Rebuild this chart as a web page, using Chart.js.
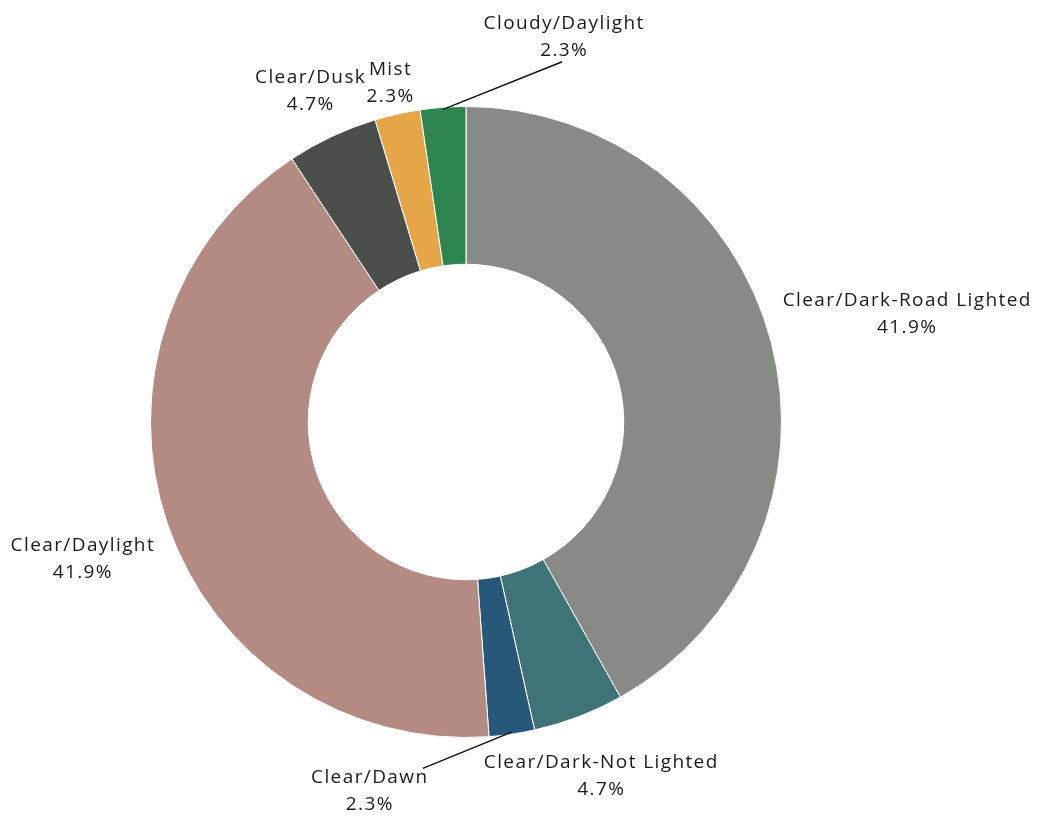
<!DOCTYPE html>
<html>
<head>
<meta charset="utf-8">
<script src="https://cdn.jsdelivr.net/npm/chart.js@4"></script>
<style>
  body { margin: 0; background: #fff; }
  #wrap { width: 1039px; height: 816px; position: relative; }
</style>
</head>
<body>
<div id="wrap"><canvas id="weather"></canvas></div>
<script>
const categories = ['Clear/Dark-Road Lighted', 'Clear/Dark-Not Lighted', 'Clear/Dawn', 'Clear/Daylight', 'Clear/Dusk', 'Mist', 'Cloudy/Daylight']
const counts = [18, 2, 1, 18, 2, 1, 1]
const colours = ['#888a87', '#3e7478', '#27587a', '#b38b82', '#4b4f4b', '#e4a647', '#2f8550']

// where each label sits: distance (x outer radius) and angle from top in degrees (null = slice middle)
const labelLayout = [
  { dist: 1.44, angle: 76.2 },
  { dist: 1.20, angle: null },
  { dist: 1.21, angle: 194.6, leader: [53, -23] },
  { dist: 1.29, angle: 250.3 },
  { dist: 1.16, angle: null },
  { dist: 1.10, angle: null },
  { dist: 1.26, angle: 14.3, leader: [-2, 25] }
]

const total = counts.reduce((a, b) => a + b, 0)
const FONT = '19px "Open Sans", sans-serif'
const LINE = 27

const outsideLabels = {
  id: 'outsideLabels',
  afterDraw(chart) {
    const ctx = chart.ctx
    const arcs = chart.getDatasetMeta(0).data
    ctx.save()
    ctx.font = FONT
    ctx.letterSpacing = '1.4px'
    ctx.fillStyle = '#1a1a1a'
    ctx.textAlign = 'center'
    ctx.textBaseline = 'middle'
    arcs.forEach((arc, i) => {
      const { x, y, startAngle, endAngle, outerRadius } = arc.getProps(['x', 'y', 'startAngle', 'endAngle', 'outerRadius'], true)
      const mid = (startAngle + endAngle) / 2
      const lay = labelLayout[i]
      const a = lay.angle === null ? mid : (lay.angle - 90) * Math.PI / 180
      const lx = x + Math.cos(a) * outerRadius * lay.dist
      const ly = y + Math.sin(a) * outerRadius * lay.dist
      const pct = (counts[i] / total * 100).toFixed(1) + '%'
      ctx.fillText(categories[i], lx, ly - LINE / 2)
      ctx.fillText(pct, lx, ly + LINE / 2)
      if (lay.leader) {
        ctx.beginPath()
        ctx.strokeStyle = '#111'
        ctx.lineWidth = 1.5
        ctx.moveTo(x + Math.cos(mid) * (outerRadius - 2), y + Math.sin(mid) * (outerRadius - 2))
        ctx.lineTo(lx + lay.leader[0], ly + lay.leader[1])
        ctx.stroke()
      }
    })
    ctx.restore()
  }
}

new Chart(document.getElementById('weather'), {
  type: 'doughnut',
  data: {
    labels: categories,
    datasets: [{
      data: counts,
      backgroundColor: colours,
      borderColor: '#fff',
      borderWidth: 1
    }]
  },
  options: {
    responsive: true,
    maintainAspectRatio: false,
    animation: false,
    cutout: '50%',
    layout: { padding: { left: 150, right: 257, top: 106, bottom: 78 } },
    plugins: {
      legend: { display: false },
      tooltip: { enabled: false }
    }
  },
  plugins: [outsideLabels]
})
</script>
</body>
</html>
